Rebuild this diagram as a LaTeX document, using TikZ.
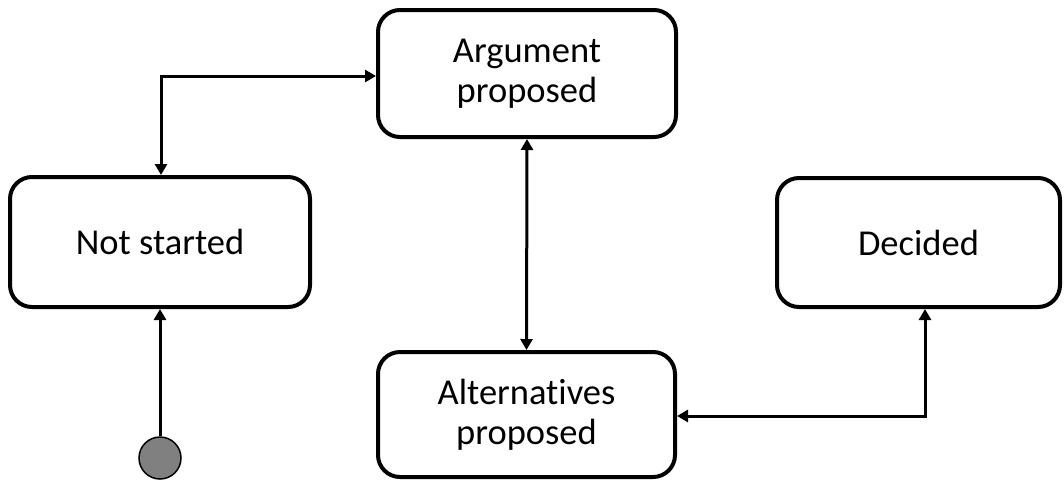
\documentclass[tikz,border=0pt]{standalone}
\usepackage{fontspec}
\setmainfont{Carlito}[Ligatures=NoCommon]
\usetikzlibrary{arrows.meta}
\begin{document}
\begin{tikzpicture}[x=1pt,y=-1pt,
  state/.style={draw, line width=4pt, rounded corners=22pt, align=center,
    font=\fontsize{36.5}{40}\selectfont, inner sep=0pt},
  conn/.style={line width=3pt, {Triangle[length=11pt,width=12pt]}-{Triangle[length=11pt,width=12pt]}},
  tip/.style={line width=3pt, -{Triangle[length=11pt,width=12pt]}},
  initial/.style={circle, draw, line width=1.5pt, fill=black!50, minimum size=42pt, inner sep=0pt}
]
\useasboundingbox (0,0) rectangle (1064,480);
\node[state, minimum width=300pt, minimum height=130pt] (ns) at (160,242) {Not started};
\node[state, minimum width=298pt, minimum height=127pt] (arg) at (527,73.5) {Argument\\proposed};
\node[state, minimum width=297pt, minimum height=125pt] (alt) at (526.5,414.5) {Alternatives\\proposed};
\node[state, minimum width=283pt, minimum height=129pt] (dec) at (918.5,242.5) {Decided};
\node[initial] (start) at (160,458) {};
\draw[conn] ([xshift=1pt]ns.north) |- ([yshift=-2.5pt]arg.west);
\draw[conn] (arg.south) -- (alt.north);
\draw[tip] (start.north) -- (ns.south);
\draw[conn] ([xshift=6.5pt]dec.south) |- ([yshift=-1.5pt]alt.east);
\end{tikzpicture}
\end{document}
